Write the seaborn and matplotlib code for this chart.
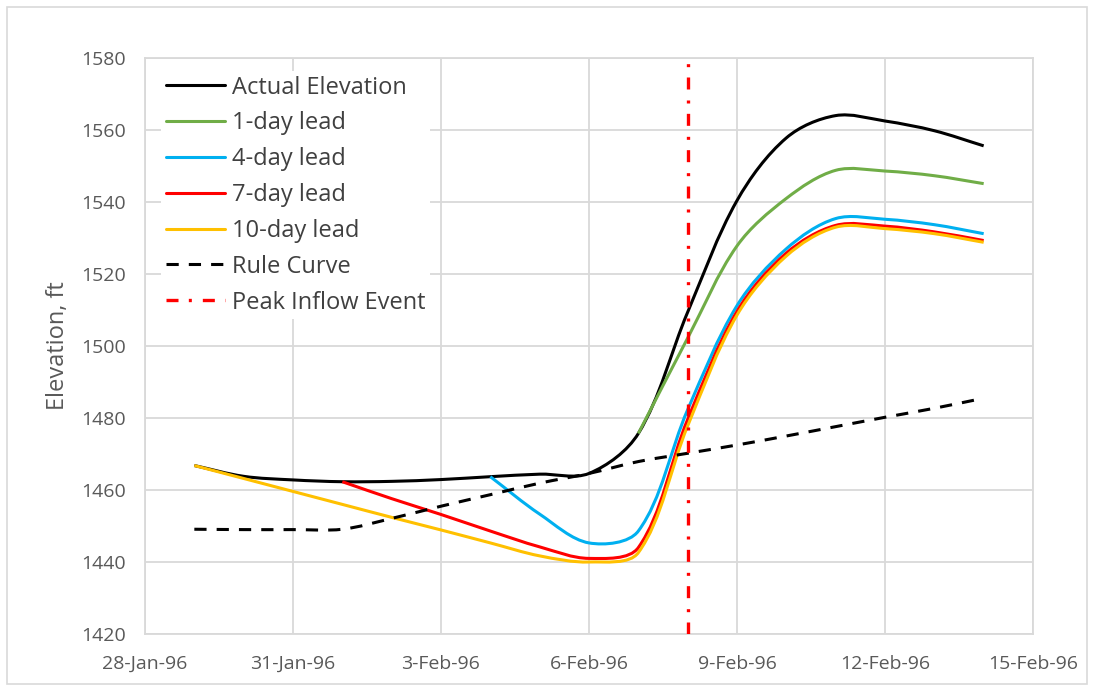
import numpy as np
import pandas as pd
import matplotlib
matplotlib.use("Agg")
import matplotlib.pyplot as plt
import matplotlib.dates as mdates
from matplotlib.patches import Rectangle, PathPatch
from matplotlib.path import Path
import seaborn as sns

# ---------------- data ----------------
dates = pd.date_range("1996-01-29", "1996-02-14", freq="D")
nan = np.nan
actual = [1466.8, 1463.8, 1462.8, 1462.3, 1462.4, 1462.9, 1463.7, 1464.4, 1464.6,
          1475.7, 1509.4, 1540.4, 1557.8, 1564.0, 1562.5, 1559.8, 1555.6]
lead1 = [nan, nan, nan, nan, nan, nan, nan, nan, nan,
         1475.7, 1502.2, 1527.8, 1541.0, 1548.8, 1548.6, 1547.3, 1545.1]
lead4 = [nan, nan, nan, nan, nan, nan, 1463.7, 1453.3, 1445.3,
         1448.6, 1482.3, 1511.2, 1527.0, 1535.4, 1535.2, 1533.7, 1531.2]
lead7 = [nan, nan, nan, 1462.3, 1457.6, 1453.2, 1448.6, 1444.2, 1441.0,
         1444.0, 1479.6, 1509.6, 1525.8, 1533.5, 1533.3, 1531.7, 1529.3]
lead10 = [1466.8, 1463.2, 1459.6, 1456.0, 1452.4, 1448.9, 1445.3, 1441.7, 1440.0,
          1442.6, 1477.8, 1508.6, 1525.0, 1533.0, 1532.6, 1531.2, 1528.8]
rule = [1449.1, 1449.0, 1449.0, 1449.1, 1452.1, 1455.5, 1458.7, 1461.9, 1464.6,
        1467.9, 1470.2, 1472.5, 1475.0, 1477.6, 1480.2, 1482.7, 1485.5]
peak_date = pd.Timestamp("1996-02-08")

series_names = ["Actual Elevation", "1-day lead", "4-day lead", "7-day lead", "10-day lead", "Rule Curve"]
series_vals = [actual, lead1, lead4, lead7, lead10, rule]
colors = ["#000000", "#70AD47", "#00B0F0", "#FF0000", "#FFC000", "#000000"]

df = pd.DataFrame({n: v for n, v in zip(series_names, series_vals)}, index=dates)
long = df.reset_index(names="Date").melt(id_vars="Date", var_name="Series", value_name="Elevation")

xticks = pd.date_range("1996-01-28", "1996-02-15", freq="3D")
yticks = list(range(1420, 1581, 20))

# ---------------- plot ----------------
sns.set_theme(style="white")
plt.rcParams["font.family"] = ["Open Sans", "DejaVu Sans"]

fig = plt.figure(figsize=(10.94, 6.91), dpi=100)
ax = fig.add_axes([145/1094, 1 - 634/691, (1033-145)/1094, (634-58)/691])

gray_text = "#595959"
grid_c = "#D9D9D9"
LW = 2.2
rule_dash = (0, (4.0, 3.3))

for name, col in zip(series_names, colors):
    sub = long[long["Series"] == name].dropna()
    sns.lineplot(data=sub, x="Date", y="Elevation", ax=ax, color=col,
                 linewidth=LW, label=name, zorder=3)

ax.axvline(peak_date, color="#FF0000", linewidth=2.4, zorder=4,
           linestyle=(0, (3.6, 3.1, 0.9, 3.3)), label="Peak Inflow Event")

for ln in ax.get_lines():
    if ln.get_label() == "Rule Curve":
        ln.set_linestyle(rule_dash)

ax.set_xlim(xticks[0], xticks[-1])
ax.set_ylim(1420, 1580)
ax.set_xticks(xticks)
ax.xaxis.set_major_formatter(mdates.DateFormatter("%-d-%b-%y"))
ax.set_yticks(yticks)
ax.grid(True, color=grid_c, linewidth=1.3, zorder=0)
ax.set_axisbelow(True)
for s in ax.spines.values():
    s.set_color(grid_c)
    s.set_linewidth(1.3)
ax.tick_params(axis="both", colors=gray_text, labelsize=14, length=0)
ax.tick_params(axis="y", pad=14)
ax.tick_params(axis="x", pad=15)
ax.set_xlabel("")
ax.set_ylabel("Elevation, ft", fontsize=17, color=gray_text, labelpad=8)

handles, labels = ax.get_legend_handles_labels()
leg = ax.legend(handles, labels, loc="upper left", bbox_to_anchor=(0.005, 0.998),
                fontsize=17, frameon=True, facecolor="white", edgecolor="none",
                framealpha=1, fancybox=False, handlelength=2.5, handletextpad=0.3,
                labelspacing=0.5, borderpad=0.2)
leg.set_zorder(5)
for t in leg.get_texts():
    t.set_color("#404040")

# Excel-style "smoothed line" rendering: replace the polyline drawn by seaborn
# with a Bezier path through the very same data vertices (tangents weighted by
# on-screen segment lengths, as Excel does).
to_disp = ax.transData
to_data = ax.transData.inverted()
for ln in list(ax.get_lines()):
    if ln.get_label() not in series_names:
        continue
    xy = np.asarray(ln.get_xydata(), dtype=float)
    xy = xy[~np.isnan(xy).any(axis=1)]
    n = len(xy)
    if n < 2:
        continue
    P = to_disp.transform(xy)
    seg = np.hypot(*np.diff(P, axis=0).T)
    out_c = np.zeros_like(P)
    in_c = np.zeros_like(P)
    for i in range(n):
        if i == 0:
            d = P[1] - P[0]
            out_c[i] = P[0] + d / 3.0
            continue
        if i == n - 1:
            d = P[-1] - P[-2]
            in_c[i] = P[-1] - d / 3.0
            continue
        d = P[i + 1] - P[i - 1]
        lin, lout = seg[i - 1], seg[i]
        tot = lin + lout
        in_c[i] = P[i] - d * (lin / tot) / 3.0 * 1.0
        out_c[i] = P[i] + d * (lout / tot) / 3.0 * 1.0
    verts = [P[0]]
    codes = [Path.MOVETO]
    for i in range(n - 1):
        verts += [out_c[i], in_c[i + 1], P[i + 1]]
        codes += [Path.CURVE4] * 3
    verts = to_data.transform(np.array(verts))
    patch = PathPatch(Path(verts, codes), facecolor="none", edgecolor=ln.get_color(),
                      linewidth=LW, zorder=3, capstyle="butt", joinstyle="round")
    if ln.get_label() == "Rule Curve":
        patch.set_linestyle(rule_dash)
    ax.add_patch(patch)
    ln.set_visible(False)

fig.patches.append(Rectangle((7/1094, 7/691), 1080/1094, 677/691, transform=fig.transFigure,
                             fill=False, edgecolor=grid_c, linewidth=1.2))

fig.savefig("out.png", dpi=100)
